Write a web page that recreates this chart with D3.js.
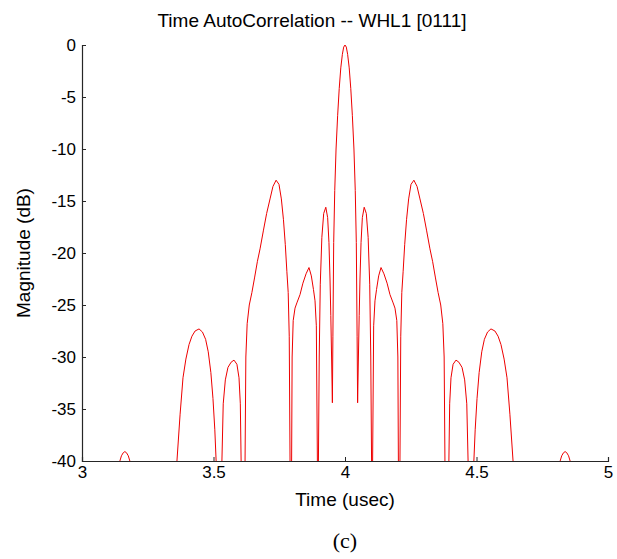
<!DOCTYPE html>
<html>
<head>
<meta charset="utf-8">
<script src="https://cdn.jsdelivr.net/npm/d3@7"></script>
<style>
  body { margin: 0; background: #fff; }
  text { font-family: "Liberation Sans", Arial, sans-serif; }
</style>
</head>
<body>
<div id="my_chart"></div>
<script>

// ======================= //
// DATA
// ======================= //

var titleText = "Time AutoCorrelation -- WHL1 [0111]"
var xLabelText = "Time (usec)"
var yLabelText = "Magnitude (dB)"
var captionText = "(c)"

var xTicks = [3, 3.5, 4, 4.5, 5]
var yTicks = [0, -5, -10, -15, -20, -25, -30, -35, -40]

// time axis (usec)
var timeUsec = [
  3.000, 3.135, 3.144, 3.150, 3.157, 3.163, 3.169, 3.176, 3.182, 3.190,
  3.350, 3.361, 3.373, 3.384, 3.395, 3.407, 3.418, 3.430, 3.445, 3.458,
  3.470, 3.480, 3.490, 3.498, 3.505, 3.510, 3.516,
  3.526, 3.532, 3.537, 3.545, 3.555, 3.567, 3.578, 3.589, 3.597, 3.602, 3.605, 3.610,
  3.617, 3.620, 3.623, 3.628, 3.636, 3.646, 3.656, 3.667, 3.677, 3.690, 3.702,
  3.715, 3.726, 3.738, 3.749, 3.758, 3.766, 3.773, 3.779, 3.784, 3.788, 3.791, 3.793,
  3.797, 3.799, 3.803, 3.810, 3.817, 3.829, 3.840, 3.852, 3.863, 3.872, 3.880,
  3.886, 3.891, 3.895, 3.897,
  3.899, 3.902, 3.906, 3.912, 3.919, 3.927, 3.934, 3.939, 3.943, 3.946, 3.949, 3.952,
  3.954, 3.957, 3.961, 3.966, 3.972, 3.978, 3.984, 3.990, 3.995, 4.000,
  4.005, 4.010, 4.016, 4.022, 4.028, 4.034, 4.039, 4.043, 4.046, 4.048,
  4.051, 4.054, 4.057, 4.061, 4.066, 4.073, 4.081, 4.088, 4.094, 4.098, 4.101, 4.103,
  4.105, 4.109, 4.114, 4.120, 4.128, 4.137, 4.148, 4.160, 4.171, 4.183, 4.190, 4.197,
  4.201, 4.203, 4.207,
  4.209, 4.212, 4.216, 4.221, 4.227, 4.234, 4.242, 4.251, 4.262, 4.274, 4.285,
  4.298, 4.310, 4.323, 4.333, 4.344, 4.354, 4.364, 4.372, 4.377, 4.380, 4.383,
  4.390, 4.395, 4.398, 4.403, 4.411, 4.422, 4.433, 4.445, 4.455, 4.463, 4.468, 4.474,
  4.484, 4.490, 4.495, 4.502, 4.510, 4.520, 4.530, 4.542, 4.555, 4.570, 4.582,
  4.593, 4.605, 4.616, 4.627, 4.639, 4.650,
  4.810, 4.818, 4.824, 4.831, 4.837, 4.843, 4.850, 4.856, 4.865, 5.000
]

// autocorrelation magnitude (dB), goes below -40 in the nulls (clipped)
var magnitudeDb = [
  -55, -55, -40, -39.5, -39.2, -39.1, -39.2, -39.5, -40, -55,
  -55, -40, -35.5, -32, -30.2, -28.8, -28.0, -27.5, -27.3, -27.6,
  -28.3, -29.5, -31.5, -34, -37, -40, -55,
  -55, -40, -34.5, -32.2, -31, -30.5, -30.3, -30.7, -32, -34.5, -40, -55,
  -55, -40, -30, -26.8, -25, -23.8, -22.4, -20.8, -19.6, -17.8, -16.2,
  -14.8, -13.6, -13.0, -13.4, -14.8, -16.8, -19.2, -21.8, -23.8, -28, -40, -55,
  -40, -30, -26.5, -25.3, -24.8, -24.0, -22.9, -22.0, -21.4, -22.2, -23.5,
  -24.6, -27, -40, -55,
  -40, -30, -23, -18.5, -16.2, -15.6, -16.6, -19, -22.5, -26, -30, -34.4,
  -28, -19, -14, -10, -6.8, -4.2, -2.2, -0.9, -0.2, 0,
  -0.2, -0.9, -2.2, -4.2, -6.8, -10, -14, -19, -28, -34.4,
  -30, -26, -22.5, -19, -16.6, -15.6, -16.2, -18.5, -23, -30, -40, -55,
  -40, -27, -24.6, -23.5, -22.2, -21.4, -22.0, -22.9, -24.0, -24.8, -25.3, -26.5,
  -30, -40, -55,
  -40, -28, -23.8, -21.8, -19.2, -16.8, -14.8, -13.4, -13.0, -13.6, -14.8,
  -16.2, -17.8, -19.6, -20.8, -22.4, -23.8, -25, -26.8, -30, -40, -55,
  -55, -40, -34.5, -32, -30.7, -30.3, -30.5, -31, -32.2, -34.5, -40, -55,
  -55, -40, -37, -34, -31.5, -29.5, -28.3, -27.6, -27.3, -27.5, -28.0,
  -28.8, -30.2, -32, -35.5, -40, -55,
  -55, -40, -39.5, -39.2, -39.1, -39.2, -39.5, -40, -55, -55
]


// ======================= //
// SVG AREA
// ======================= //

var W = 617, H = 559
var margin = {top: 45, right: 9, bottom: 98, left: 82},
  width = W - margin.left - margin.right,
  height = H - margin.top - margin.bottom;

var root = d3.select("#my_chart")
.append("svg")
  .attr("width", W)
  .attr("height", H)
root.append("rect").attr("width", W).attr("height", H).attr("fill", "#fff")

var svg = root.append("g")
  .attr("transform", "translate(" + margin.left + "," + margin.top + ")");

var x = d3.scaleLinear().domain([3, 5]).range([0, width])
var y = d3.scaleLinear().domain([-40, 0]).range([height, 0])


// ======================= //
// CURVE
// ======================= //

svg.append("clipPath").attr("id", "plotClip")
  .append("rect")
    .attr("x", 0).attr("y", -2)
    .attr("width", width).attr("height", height + 2)

var points = timeUsec.map(function(t, i){ return [t, magnitudeDb[i]] })

svg.append("path")
  .datum(points)
  .attr("clip-path", "url(#plotClip)")
  .attr("fill", "none")
  .attr("stroke", "#ee0000")
  .attr("stroke-width", 1)
  .attr("stroke-linejoin", "round")
  .attr("d", d3.line()
    .x(function(d){ return x(d[0]) })
    .y(function(d){ return y(d[1]) }))


// ======================= //
// AXES (matlab style, ticks inside)
// ======================= //

// plain hyphen for negatives, like matlab
var fmt = function(d){ return String(d) }

var xAxis = svg.append("g")
  .attr("transform", "translate(0," + height + ")")
  .call(d3.axisBottom(x).tickValues(xTicks).tickSize(-4).tickPadding(5).tickFormat(fmt))
xAxis.selectAll("text").style("font-size", "17px").style("fill", "#000")

var yAxis = svg.append("g")
  .call(d3.axisLeft(y).tickValues(yTicks).tickSize(-4).tickPadding(6).tickFormat(fmt))
yAxis.selectAll("text").style("font-size", "17px").style("fill", "#000")

svg.selectAll(".domain").attr("stroke", "#262626").attr("stroke-width", 1.2)
svg.selectAll(".tick line").attr("stroke", "#262626")


// ======================= //
// LABELS
// ======================= //

root.append("text")
  .attr("x", 312)
  .attr("y", 27)
  .attr("text-anchor", "middle")
  .style("font-size", "19px")
  .text(titleText)

root.append("text")
  .attr("x", margin.left + width / 2)
  .attr("y", 506)
  .attr("text-anchor", "middle")
  .style("font-size", "19px")
  .text(xLabelText)

root.append("text")
  .attr("transform", "translate(30," + (margin.top + height / 2) + ")rotate(-90)")
  .attr("text-anchor", "middle")
  .style("font-size", "19px")
  .text(yLabelText)

root.append("text")
  .attr("x", margin.left + width / 2)
  .attr("y", 548)
  .attr("text-anchor", "middle")
  .style("font-family", "'Liberation Serif', 'Times New Roman', serif")
  .style("font-size", "22px")
  .text(captionText)

</script>
</body>
</html>
